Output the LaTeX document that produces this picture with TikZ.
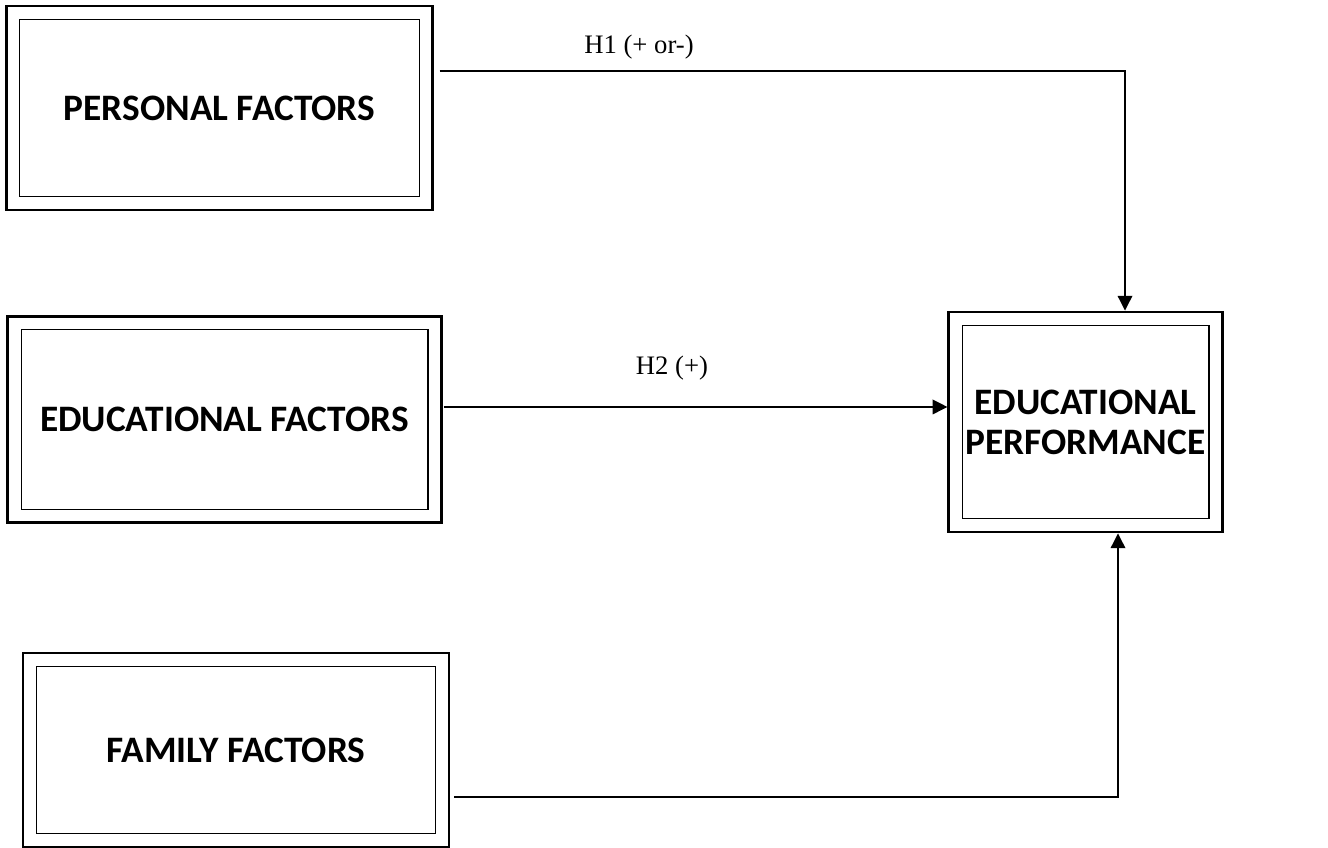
\documentclass[tikz,border=0pt]{standalone}
\usepackage{fontspec}
\setmainfont{Liberation Serif}
\newfontfamily\calib{Carlito}
\usetikzlibrary{arrows.meta}

\tikzset{
	factor/.style 2 args={draw,line width=2.2pt,minimum width=#1,minimum height=#2,
		inner sep=0pt,align=center,font=\calib\bfseries\fontsize{28}{30}\selectfont,
		path picture={\draw[line width=1pt]
			([shift={(10pt,-10pt)}]path picture bounding box.north west) rectangle
			([shift={(-10pt,10pt)}]path picture bounding box.south east);}},
	conn/.style={line width=0.9pt,-{Triangle[length=11pt,width=11pt]}},
	hyp/.style={anchor=base,inner sep=0pt,font=\fontsize{20}{24}\selectfont}
}

\begin{document}
\begin{tikzpicture}[x=0.75pt,y=-0.75pt]
		\useasboundingbox (0,0) rectangle (1328,848);
		% factor boxes
		\node[factor={320pt}{153pt}] (pers) at (219.5,108) {PERSONAL FACTORS};
		\node[factor={325pt}{155pt}] (edu) at (224.5,419.5) {EDUCATIONAL FACTORS};
		\node[factor={319.5pt}{145.5pt}] (fam) at (236,750) {FAMILY FACTORS};
		\node[factor={205pt}{165pt}] (perf) at (1085.5,422) {EDUCATIONAL\\PERFORMANCE};
		% bend points
		\coordinate (c1) at (1125,71);
		\coordinate (c3) at (1118,797);
		\draw[conn,shorten <=4pt] (pers.east |- c1) -- (c1) -- (c1 |- perf.north);
		\draw[conn,shorten <=1pt] ([yshift=9.4pt]edu.east) -- ([yshift=9.4pt]edu.east -| perf.west);
		\draw[conn,shorten <=3pt] (fam.east |- c3) -- (c3) -- (c3 |- perf.south);
		\node[hyp] (h1) at (639,54) {H1 (+ or-)};
		\node[hyp] (h2) at (672,375) {H2 (+)};
	\end{tikzpicture}
\end{document}
